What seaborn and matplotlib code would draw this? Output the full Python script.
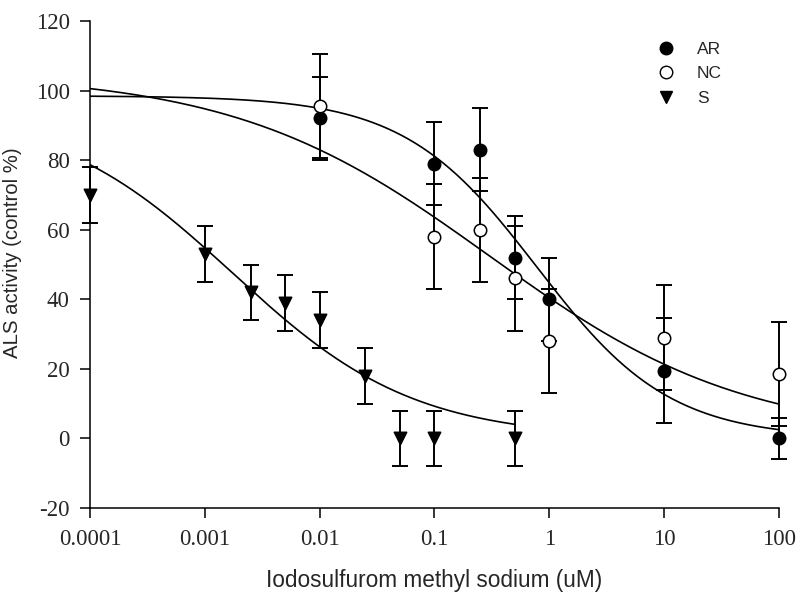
import numpy as np
import pandas as pd
import matplotlib
matplotlib.use("Agg")
import matplotlib.pyplot as plt
import seaborn as sns
from matplotlib.lines import Line2D

# ---- data ----
ar_x = [0.01, 0.1, 0.25, 0.5, 1, 10, 100]
ar_y = [92, 79, 83, 52, 40, 19.5, 0]
ar_err = [12, 12, 12, 12, 12, 15, 6]

nc_x = [0.01, 0.1, 0.25, 0.5, 1, 10, 100]
nc_y = [95.5, 58, 60, 46, 28, 29, 18.5]
nc_err = [15, 15, 15, 15, 15, 15, 15]

s_x = [0.0001, 0.001, 0.0025, 0.005, 0.01, 0.025, 0.05, 0.1, 0.5]
s_y = [70, 53, 42, 39, 34, 18, 0, 0, 0]
s_err = [8, 8, 8, 8, 8, 8, 8, 8, 8]

# fitted log-logistic curve parameters (top, bottom, ec50, slope, x range)
ar_fit = (98.5, 0.0, 0.78, 0.75, 1e-4, 100)
nc_fit = (105.0, 0.0, 0.30, 0.39, 1e-4, 100)
s_fit = (95.0, 0.0, 0.00175, 0.55, 1e-4, 0.5)

x_ticks = [0.0001, 0.001, 0.01, 0.1, 1, 10, 100]
x_labels = ["0.0001", "0.001", "0.01", "0.1", "1", "10", "100"]
y_ticks = [-20, 0, 20, 40, 60, 80, 100, 120]


def curve(p):
    top, bot, ec50, b, x0, x1 = p
    xs = np.logspace(np.log10(x0), np.log10(x1), 300)
    return xs, bot + (top - bot) / (1 + (xs / ec50) ** b)


sns.set_style("ticks")
plt.rcParams["axes.unicode_minus"] = False
fig = plt.figure(figsize=(7.96, 5.95), dpi=100)
ax = fig.add_axes([90 / 796, 1 - 508 / 595, (779 - 90) / 796, (508 - 21) / 595])
ax.set_xscale("log")

groups = [
    ("AR", ar_x, ar_y, ar_err, ar_fit, "o", "black"),
    ("NC", nc_x, nc_y, nc_err, nc_fit, "o", "white"),
    ("S", s_x, s_y, s_err, s_fit, "v", "black"),
]

for name, xs, ys, es, fit, mk, fc in groups:
    cx, cy = curve(fit)
    sns.lineplot(x=cx, y=cy, ax=ax, color="black", linewidth=1.2, zorder=2,
                 estimator=None, sort=False)
    ax.errorbar(xs, ys, yerr=es, fmt="none", ecolor="black", elinewidth=1.4,
                capsize=5.5, capthick=1.4, zorder=3, clip_on=False)
    df = pd.DataFrame({"x": xs, "y": ys})
    sns.scatterplot(data=df, x="x", y="y", ax=ax, marker=mk, s=80,
                    color=fc, edgecolor="black", linewidth=1.1, zorder=4,
                    clip_on=False)

ax.set_xlim(1e-4, 100)
ax.set_ylim(-20, 120)
ax.set_xticks(x_ticks)
ax.set_xticklabels(x_labels)
ax.set_yticks(y_ticks)
ax.xaxis.set_minor_locator(matplotlib.ticker.NullLocator())

for lab in ax.get_xticklabels() + ax.get_yticklabels():
    lab.set_family("Liberation Serif")
    lab.set_fontsize(16.5)
ax.tick_params(axis="both", direction="out", length=7, width=1.1, color="black")
ax.tick_params(axis="y", pad=7.5)
ax.tick_params(axis="x", pad=8)

for sp in ["top", "right"]:
    ax.spines[sp].set_visible(False)
for sp in ["left", "bottom"]:
    ax.spines[sp].set_linewidth(1.1)
    ax.spines[sp].set_color("black")

ax.set_xlabel("Iodosulfurom methyl sodium (uM)", family="Liberation Sans",
              fontsize=16.3, labelpad=14)
ax.set_ylabel("ALS activity (control %)", family="Liberation Sans",
              fontsize=14.7)
ax.yaxis.set_label_coords(-0.099, 0.524)

handles = [
    Line2D([], [], marker="o", linestyle="none", markersize=9,
           markerfacecolor="black", markeredgecolor="black"),
    Line2D([], [], marker="o", linestyle="none", markersize=9,
           markerfacecolor="white", markeredgecolor="black"),
    Line2D([], [], marker="v", linestyle="none", markersize=9,
           markerfacecolor="black", markeredgecolor="black"),
]
leg = ax.legend(handles, ["AR", "NC", "S"], loc="upper left",
                bbox_to_anchor=(0.8, 0.99), frameon=False,
                prop={"family": "Liberation Sans", "size": 12.5},
                handletextpad=1.3, labelspacing=0.55, handlelength=1.0)

fig.savefig("out.png", dpi=100)
